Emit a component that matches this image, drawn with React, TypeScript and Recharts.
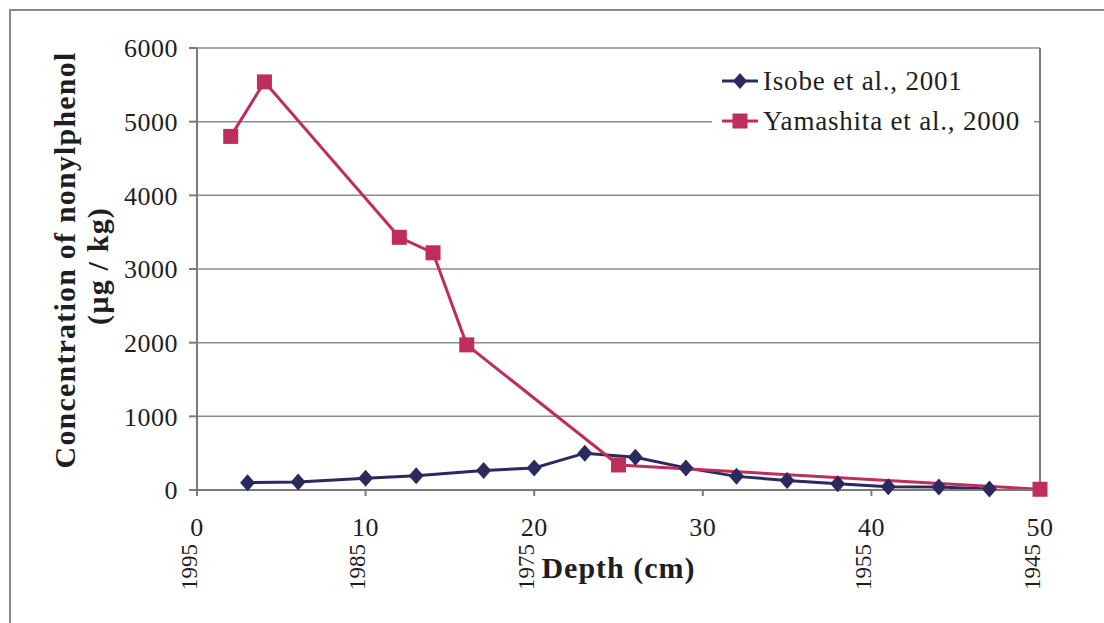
import {
  LineChart,
  Line,
  XAxis,
  YAxis,
  CartesianGrid,
  Label,
  ReferenceLine,
} from 'recharts'

// sediment core profile: depth (cm) vs nonylphenol (µg/kg)
const isobeDepth = [3, 6, 10, 13, 17, 20, 23, 26, 29, 32, 35, 38, 41, 44, 47]
const isobeConc = [100, 110, 160, 195, 265, 300, 500, 445, 300, 185, 130, 85, 45, 40, 15]

const yamashitaDepth = [2, 4, 12, 14, 16, 25, 50]
const yamashitaConc = [4800, 5540, 3430, 3220, 1970, 340, 10]

const depthTicks = [0, 10, 20, 30, 40, 50]
const yearLabels = ['1995', '1985', '1975', '', '1955', '1945']
const concTicks = [0, 1000, 2000, 3000, 4000, 5000, 6000]

const seriesNames = ['Isobe et al., 2001', 'Yamashita et al., 2000']

const isobe = isobeDepth.map((d, i) => ({ depth: d, conc: isobeConc[i] }))
const yamashita = yamashitaDepth.map((d, i) => ({ depth: d, conc: yamashitaConc[i] }))

const NAVY = '#2a2a5e'
const CRIMSON = '#bf2d5b'
const GRID = '#8c8c8c'
const AXIS = '#7a7a7a'
const TEXT = '#1e1e1e'
const serif = '"Liberation Serif", "Times New Roman", serif'

const Diamond = (props: any) => {
  const { cx, cy, index } = props
  if (cx == null || cy == null) return <g key={index} />
  return (
    <polygon
      key={index}
      points={`${cx},${cy - 8.5} ${cx + 7.5},${cy} ${cx},${cy + 8.5} ${cx - 7.5},${cy}`}
      fill={NAVY}
    />
  )
}

const Square = (props: any) => {
  const { cx, cy, index } = props
  if (cx == null || cy == null) return <g key={index} />
  return <rect key={index} x={cx - 7.5} y={cy - 7.5} width={15} height={15} fill={CRIMSON} />
}

const DepthTick = (props: any) => {
  const { x, y, payload } = props
  const idx = depthTicks.indexOf(payload.value)
  const year = yearLabels[idx]
  return (
    <g>
      <text
        x={x}
        y={y + 29}
        textAnchor="middle"
        dominantBaseline="central"
        fontFamily={serif}
        fontSize={26}
        letterSpacing={0.5}
        fill={TEXT}
      >
        {payload.value}
      </text>
      {year && (
        <text
          transform={`translate(${x - 8}, ${y + 69}) rotate(-90)`}
          textAnchor="middle"
          dominantBaseline="central"
          fontFamily={serif}
          fontSize={23}
          fill={TEXT}
        >
          {year}
        </text>
      )}
    </g>
  )
}

// legend box sits over the top-right of the plot with a white fill
const ChartLegend = () => {
  const colors = [NAVY, CRIMSON]
  return (
    <svg
      width={322}
      height={80}
      style={{ position: 'absolute', left: 712, top: 62, background: '#fff' }}
    >
      {seriesNames.map((name, i) => {
        const cy = 19 + i * 40
        return (
          <g key={name}>
            <line x1={10} x2={46} y1={cy} y2={cy} stroke={colors[i]} strokeWidth={3} />
            {i === 0 ? (
              <polygon points={`28,${cy - 8} 35,${cy} 28,${cy + 8} 21,${cy}`} fill={colors[i]} />
            ) : (
              <rect x={20.5} y={cy - 7.5} width={15} height={15} fill={colors[i]} />
            )}
            <text
              x={51}
              y={cy}
              dominantBaseline="central"
              fontFamily={serif}
              fontSize={27}
              letterSpacing={0.8}
              fill={TEXT}
            >
              {name}
            </text>
          </g>
        )
      })}
    </svg>
  )
}

export default function App() {
  return (
    <div
      style={{
        position: 'absolute',
        left: 0,
        top: 0,
        width: 1104,
        height: 623,
        background: '#fff',
        overflow: 'hidden',
      }}
    >
      {/* figure frame, right and bottom edges fall outside */}
      <div
        style={{
          position: 'absolute',
          left: 9,
          top: 9,
          width: 1120,
          height: 640,
          borderLeft: '2px solid #8a8a8a',
          borderTop: '2px solid #8a8a8a',
        }}
      />
      <LineChart
        width={1104}
        height={623}
        margin={{ top: 48, right: 64, bottom: 0, left: 0 }}
        style={{ position: 'absolute', left: 0, top: 0 }}
      >
        <CartesianGrid vertical={false} stroke={GRID} strokeWidth={1.5} />
        <XAxis
          dataKey="depth"
          type="number"
          domain={[0, 50]}
          ticks={depthTicks}
          allowDuplicatedCategory={false}
          height={133}
          tickSize={6}
          tick={<DepthTick />}
          stroke={AXIS}
          strokeWidth={2}
        >
          <Label
            content={({ viewBox }: any) => (
              <text
                x={viewBox.x + viewBox.width / 2}
                y={viewBox.y + 77}
                textAnchor="middle"
                dominantBaseline="central"
                fontFamily={serif}
                fontWeight="bold"
                fontSize={30}
                letterSpacing={1}
                fill={TEXT}
              >
                Depth (cm)
              </text>
            )}
          />
        </XAxis>
        <YAxis
          type="number"
          domain={[0, 6000]}
          ticks={concTicks}
          width={197}
          tickSize={8}
          tickMargin={11}
          stroke={AXIS}
          strokeWidth={2}
          tick={{ fontFamily: serif, fontSize: 26, fill: TEXT, letterSpacing: 0.5 }}
        >
          <Label
            content={({ viewBox }: any) => {
              const cy = viewBox.y + viewBox.height / 2 - 9
              return (
                <g fontFamily={serif} fontWeight="bold" fontSize={30} fill={TEXT}>
                  <text
                    transform={`translate(64, ${cy}) rotate(-90)`}
                    textAnchor="middle"
                    dominantBaseline="central"
                    letterSpacing={1.2}
                  >
                    Concentration of nonylphenol
                  </text>
                  <text
                    transform={`translate(97, ${cy + 6}) rotate(-90)`}
                    textAnchor="middle"
                    dominantBaseline="central"
                    letterSpacing={1.2}
                  >
                    (µg / kg)
                  </text>
                </g>
              )
            }}
          />
        </YAxis>
        <ReferenceLine x={50} stroke={AXIS} strokeWidth={2} />
        <Line
          data={isobe}
          dataKey="conc"
          name={seriesNames[0]}
          stroke={NAVY}
          strokeWidth={3}
          dot={Diamond}
          activeDot={false}
          isAnimationActive={false}
        />
        <Line
          data={yamashita}
          dataKey="conc"
          name={seriesNames[1]}
          stroke={CRIMSON}
          strokeWidth={3}
          dot={Square}
          activeDot={false}
          isAnimationActive={false}
        />
      </LineChart>
      <ChartLegend />
    </div>
  )
}
